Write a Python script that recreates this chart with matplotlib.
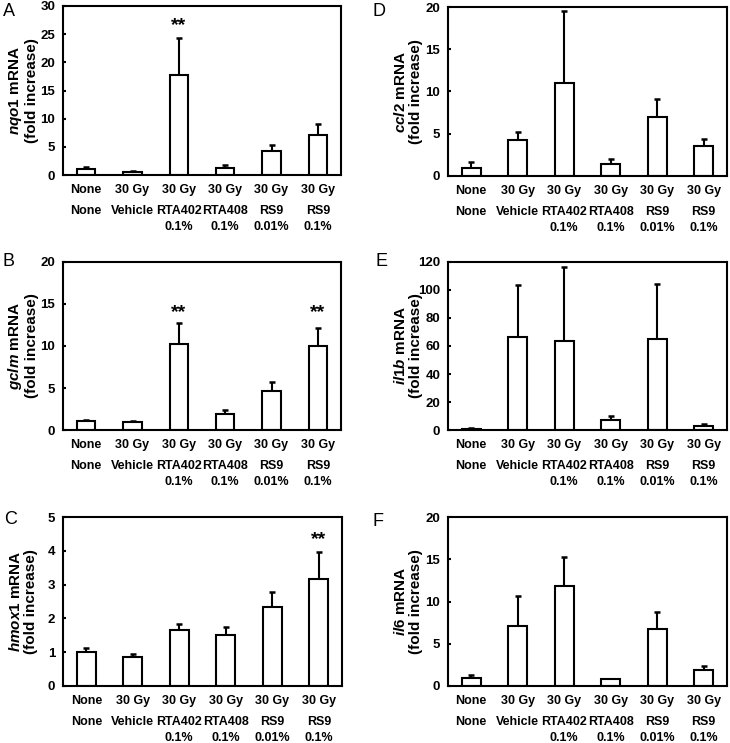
import matplotlib
matplotlib.use("Agg")
import matplotlib.pyplot as plt

plt.rcParams['font.family'] = ['Liberation Sans', 'DejaVu Sans']
plt.rcParams['mathtext.fontset'] = 'custom'
plt.rcParams['mathtext.it'] = 'Liberation Sans:italic:bold'
plt.rcParams['mathtext.rm'] = 'Liberation Sans:bold'

row1 = ["None", "30 Gy", "30 Gy", "30 Gy", "30 Gy", "30 Gy"]
row2 = ["None", "Vehicle", "RTA402", "RTA408", "RS9", "RS9"]
row3 = ["", "", "0.1%", "0.1%", "0.01%", "0.1%"]

nqo1 = [1.05, 0.45, 17.7, 1.3, 4.2, 7.1]
nqo1_err = [0.3, 0.2, 6.6, 0.5, 1.1, 1.9]
gclm = [1.05, 0.95, 10.25, 1.95, 4.7, 10.0]
gclm_err = [0.15, 0.1, 2.5, 0.45, 1.0, 2.2]
hmox1 = [1.02, 0.87, 1.67, 1.52, 2.35, 3.17]
hmox1_err = [0.1, 0.08, 0.15, 0.24, 0.42, 0.8]
ccl2 = [1.0, 4.25, 10.95, 1.38, 6.97, 3.54]
ccl2_err = [0.65, 0.95, 8.55, 0.62, 2.16, 0.86]
il1b = [1.0, 66.7, 63.7, 6.9, 65.1, 2.8]
il1b_err = [0.3, 37.0, 53.0, 3.3, 39.0, 1.2]
il6 = [1.0, 7.05, 11.8, 0.85, 6.75, 1.9]
il6_err = [0.3, 3.6, 3.5, 0.0, 2.0, 0.45]

W, H = 730, 743
fig = plt.figure(figsize=(W / 100, H / 100), dpi=100)

def px_axes(left, right, top, bottom):
    return fig.add_axes([left / W, 1 - bottom / H, (right - left) / W, (bottom - top) / H])

panels = [
    ("A", "nqo1", nqo1, nqo1_err, 30, 5, [2], 26.5, (63, 341, 6, 175), (3, 3)),
    ("B", "gclm", gclm, gclm_err, 20, 5, [2, 5], 14.0, (63, 341, 262, 430), (3, 253)),
    ("C", "hmox1", hmox1, hmox1_err, 5, 1, [5], 4.32, (63, 342, 517, 686), (4, 511)),
    ("D", "ccl2", ccl2, ccl2_err, 20, 5, [], 0, (448, 727, 7, 176), (372, 3)),
    ("E", "il1b", il1b, il1b_err, 120, 20, [], 0, (448, 727, 262, 430), (375, 253)),
    ("F", "il6", il6, il6_err, 20, 5, [], 0, (448, 727, 517, 686), (372, 513)),
]

x = list(range(len(row1)))
for letter, gene, vals, errs, ymax, step, stars, star_y, box, lpos in panels:
    ax = px_axes(*box)
    ax.bar(x, vals, width=0.4, color='white', edgecolor='black', linewidth=1.5, zorder=2)
    ax.errorbar(x, vals, yerr=[[0] * len(vals), errs], fmt='none', ecolor='black',
                elinewidth=1.5, capsize=2.5, capthick=1.8, zorder=1)
    ax.set_xlim(-0.5, len(x) - 0.5)
    ax.set_ylim(0, ymax)
    ax.set_yticks(list(range(0, ymax + 1, step)))
    ax.set_xticks([])
    for s in ax.spines.values():
        s.set_linewidth(1.5)
    ax.tick_params(axis='y', direction='in', length=2.5, width=1.5, pad=5.5, labelsize=9.5)
    for t in ax.get_yticklabels():
        t.set_fontweight('bold')
    for i in x:
        for lab, off in ((row1[i], -10.8), (row2[i], -25.9), (row3[i], -37.2)):
            if lab:
                ax.annotate(lab, xy=(i, 0), xycoords=('data', 'axes fraction'),
                            xytext=(0, off), textcoords='offset points',
                            ha='center', va='center', fontsize=9, fontweight='bold')
    for i in stars:
        ax.text(i, star_y, "**", ha='center', va='center', fontsize=14, fontweight='bold')
    ax.annotate(r"$\mathit{" + gene + r"}$ mRNA" + "\n(fold increase)",
                xy=(0, 0.5), xycoords='axes fraction', xytext=(-29, 0),
                textcoords='offset points', rotation=90, ha='center', va='center',
                fontsize=11, fontweight='bold', multialignment='center', linespacing=1.1)
    fig.text(lpos[0] / W, 1 - lpos[1] / H, letter, ha='left', va='top', fontsize=13)

fig.savefig("out.png", dpi=100)
